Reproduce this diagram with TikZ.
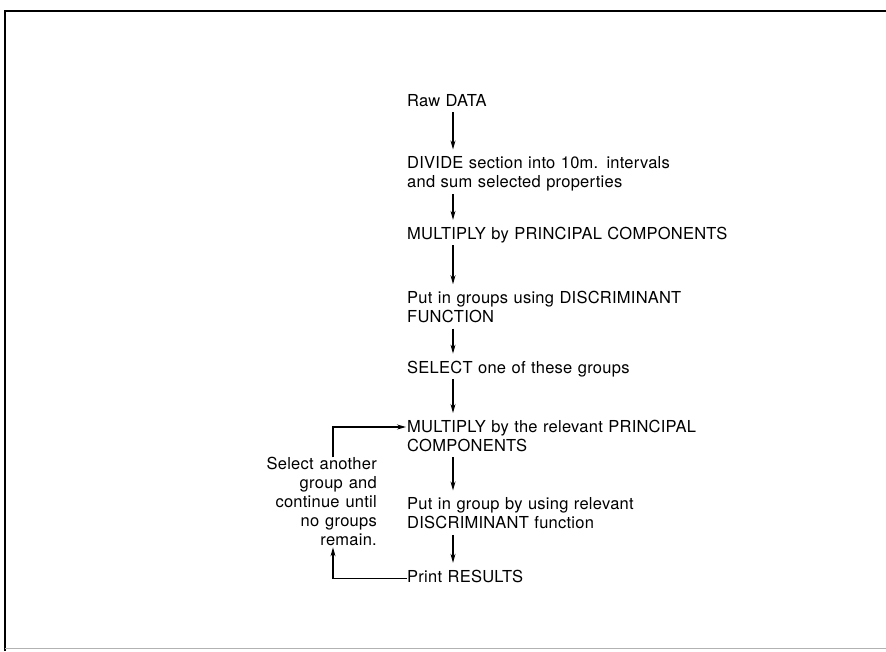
\documentclass[tikz,border=0pt]{standalone}
\usepackage{fontspec}
\setmainfont[LetterSpace=1.5]{TeX Gyre Heros}
\usepackage{tikz}
\usetikzlibrary{arrows.meta,positioning}

\newcommand{\flowfont}{\fontsize{16.5}{19}\selectfont\spaceskip=0.36em plus 0.1em}

\begin{document}
\begin{tikzpicture}[x=1pt,y=1pt]
	\tikzstyle{stage}
	  =[text width=340pt, align=left, inner sep=0pt, font=\flowfont,
	  execute at begin node=\strut, execute at end node=\strut]
	\tikzstyle{flow}
	  =[-{Stealth[length=9pt,width=5pt]}, line width=1.1pt, shorten >=6pt]

	\useasboundingbox (0,0) rectangle (886,-651);
	% frame
	\draw[line width=1.4pt] (5,-651) -- (5,-11) -- (886,-11);
	\draw[gray!60, line width=0.8pt] (5,-648) -- (886,-648);

	\node[stage, anchor=north west] (raw)
	  at (407,-93) {Raw DATA};
	\node[stage] (divide)
	  [below=43pt of raw] {DIVIDE section into 10m. intervals\\and sum selected properties};
	\node[stage] (pc)
	  [below=32pt of divide] {MULTIPLY by PRINCIPAL COMPONENTS};
	\node[stage] (groups)
	  [below=45pt of pc] {Put in groups using DISCRIMINANT\\FUNCTION};
	\node[stage] (select)
	  [below=31pt of groups] {SELECT one of these groups};
	\node[stage] (pc2)
	  [below=40pt of select] {MULTIPLY by the relevant PRINCIPAL\\COMPONENTS};
	\node[stage] (group2)
	  [below=39pt of pc2] {Put in group by using relevant\\DISCRIMINANT function};
	\node[stage] (print)
	  [below=34pt of group2] {Print RESULTS};

	\node[font=\flowfont, align=right, inner sep=0pt] (note)
	  [below left=0pt and 30pt of pc2.south west]
	  {Select another\\group and\\continue until\\no groups\\remain.};

	\draw[flow] ([xshift=46pt]raw.south west) -- ([xshift=46pt]divide.north west);
	\draw[flow] ([xshift=46pt]divide.south west) -- ([xshift=46pt]pc.north west);
	\draw[flow] ([xshift=46pt]pc.south west) -- ([xshift=46pt]groups.north west);
	\draw[flow] ([xshift=46pt]groups.south west) -- ([xshift=46pt]select.north west);
	\draw[flow] ([xshift=46pt]select.south west) -- ([xshift=46pt]pc2.north west);
	\draw[flow] ([xshift=46pt]pc2.south west) -- ([xshift=46pt]group2.north west);
	\draw[flow] ([xshift=46pt]group2.south west) -- ([xshift=46pt]print.north west);

	% loop back
	\draw[flow, shorten >=1pt] ([xshift=-44pt]note.north east) |- ([yshift=-8pt]pc2.north west);
	\draw[flow, shorten >=1pt] (print.west) -| ([xshift=-44pt]note.south east);
\end{tikzpicture}
\end{document}
